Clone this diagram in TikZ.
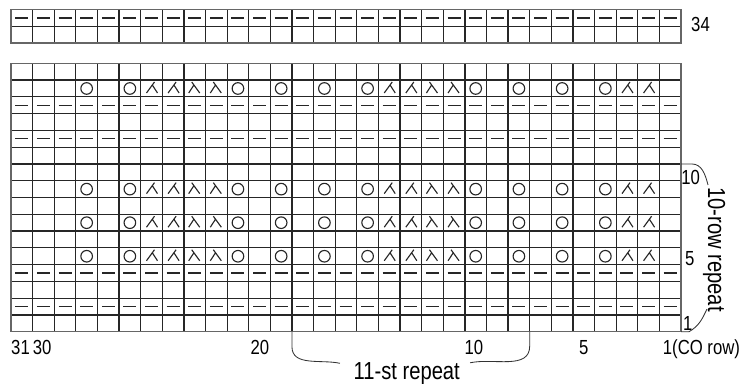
\documentclass[tikz,border=0pt]{standalone}
\usepackage{fontspec}
\newfontfamily\chartfont[FakeStretch=0.82]{Liberation Sans}
\usetikzlibrary{positioning}
\tikzstyle{gridline} = [draw=black!85, line width=0.9pt]
\tikzstyle{border} = [draw=black!60, line width=1pt]
\tikzstyle{stitch} = [draw=black!85, line width=0.8pt]
\tikzstyle{brace} = [draw=black!80, line width=0.6pt]
\tikzstyle{num} = [font=\chartfont\fontsize{14.5}{16}\selectfont, inner sep=0pt]
\tikzstyle{repeatlabel} = [font=\chartfont\fontsize{17.5}{19}\selectfont, inner sep=0pt]
\tikzset{
  yo/.pic={\draw[stitch] (0,0) circle[radius=0.145cm];},
  ktog/.pic={\draw[stitch] (0.075cm,0.1625cm) -- (-0.125cm,-0.1125cm) (0.02cm,0.0875cm) -- (0.15cm,-0.1125cm);},
  ssk/.pic={\draw[stitch] (-0.075cm,0.1625cm) -- (0.125cm,-0.1125cm) (-0.02cm,0.0875cm) -- (-0.15cm,-0.1125cm);}
}
\begin{document}
\begin{tikzpicture}[x=0.5403cm, y=0.4194cm]
	\useasboundingbox (-0.509,-3.058) rectangle (33.915,19.774);
	
	% rows 1-16
	\foreach \i in {1,...,30} \draw[gridline] (\i,0) -- (\i,16);
	\foreach \j in {1,...,15} \draw[gridline] (0,\j) -- (31,\j);
	\draw[border] (0,0) rectangle (31,16);
	% rows 33-34
	\foreach \i in {1,...,30} \draw[gridline] (\i,17.2) -- (\i,19.2);
	\draw[gridline] (0,18.2) -- (31,18.2);
	\draw[border] (0,17.2) rectangle (31,19.2);
	
	% purl rows
	\foreach \y in {1.5,3.5,11.5,13.5,18.7}
		\foreach \k in {1,...,31}
			\draw[stitch] (\k-0.8,\y) -- (\k-0.2,\y);
	% lace rows
	\foreach \y in {4.5,6.5,8.5,14.5} {
		\foreach \k in {4,6,11,13,15,17,22,24,26,28} \pic at (\k-0.5,\y) {yo};
		\foreach \k in {7,8,18,19,29,30} \pic at (\k-0.5,\y) {ktog};
		\foreach \k in {9,10,20,21} \pic at (\k-0.5,\y) {ssk};
	}
	
	\node[num, anchor=base west] (row34) at (31.46,17.88) {34};
	\node[num, anchor=base west] (row10) at (31.0,8.75) {10};
	\node[num, anchor=base west] (row5) at (31.18,3.92) {5};
	\node[num, anchor=base west] (row1) at (31.09,0.1) {1};
	
	\node[num, anchor=base] (col31) at (0.44,-1.38) {31};
	\node[num, anchor=base] (col30) at (1.44,-1.38) {30};
	\node[num, anchor=base] (col20) at (11.52,-1.38) {20};
	\node[num, anchor=base] (col10) at (21.42,-1.38) {10};
	\node[num, anchor=base] (col5) at (26.5,-1.38) {5};
	\node[num, anchor=base west] (col1) at (30.15,-1.38) {1(CO row)};
	
	\node[repeatlabel, anchor=base] (strepeat) at (18.31,-2.84) {11-st repeat};
	\node[repeatlabel, anchor=base, rotate=-90] (rowrepeat) at (32.25,4.9) {10-row repeat};
	
	% repeat brackets
	\coordinate (stleft) at (13,0);
	\coordinate (stleftend) at (15.22,-1.88);
	\coordinate (stright) at (24,0);
	\coordinate (strightend) at (21.24,-1.85);
	\draw[brace] (stleft) -- ++(0,-0.89) to[out=-90,in=168] (stleftend);
	\draw[brace] (stright) -- ++(0,-0.85) to[out=-90,in=12] (strightend);
	
	\coordinate (rowtop) at (31,10);
	\coordinate (rowtopend) at (32.25,8.75);
	\coordinate (rowbottom) at (31,0);
	\coordinate (rowbottomend) at (32.2,1.35);
	\draw[brace] (rowtop) -- ++(0.5,0) to[out=0,in=105] (rowtopend);
	\draw[brace] (rowbottom) -- ++(0.37,0) to[out=30,in=-115] (rowbottomend);
\end{tikzpicture}
\end{document}
